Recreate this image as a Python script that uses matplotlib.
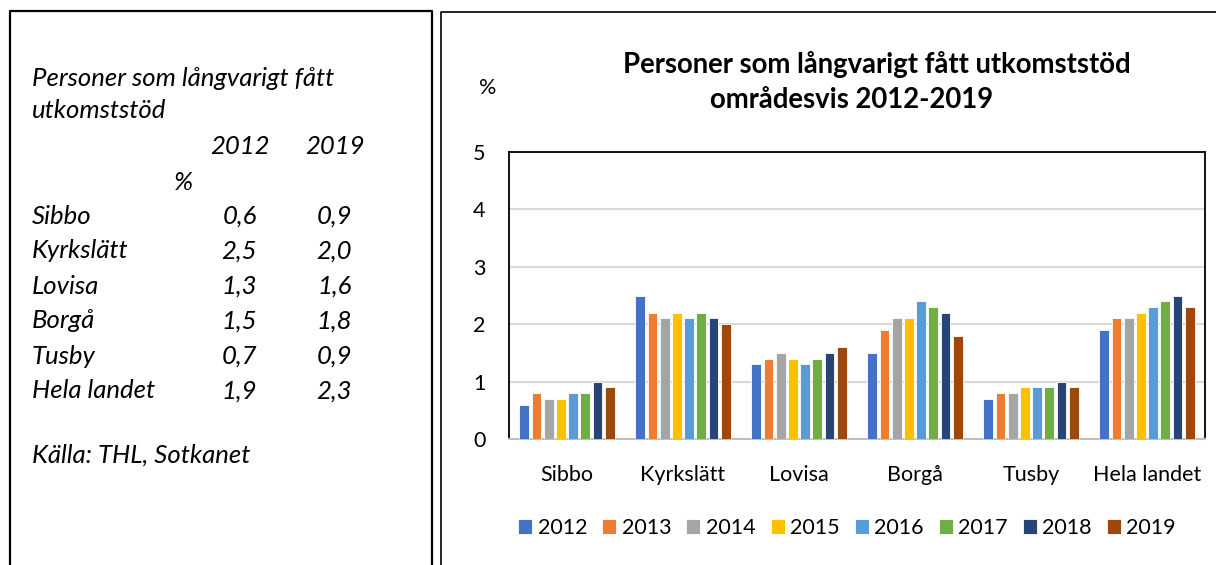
import matplotlib.pyplot as plt
import numpy as np
from matplotlib.lines import Line2D

plt.rcParams['font.family'] = ['Lato', 'DejaVu Sans']

AREAS = ["Sibbo", "Kyrkslätt", "Lovisa", "Borgå", "Tusby", "Hela landet"]
YEARS = ["2012", "2013", "2014", "2015", "2016", "2017", "2018", "2019"]
VALUES = {
    "2012": [0.6, 2.5, 1.3, 1.5, 0.7, 1.9],
    "2013": [0.8, 2.2, 1.4, 1.9, 0.8, 2.1],
    "2014": [0.7, 2.1, 1.5, 2.1, 0.8, 2.1],
    "2015": [0.7, 2.2, 1.4, 2.1, 0.9, 2.2],
    "2016": [0.8, 2.1, 1.3, 2.4, 0.9, 2.3],
    "2017": [0.8, 2.2, 1.4, 2.3, 0.9, 2.4],
    "2018": [1.0, 2.1, 1.5, 2.2, 1.0, 2.5],
    "2019": [0.9, 2.0, 1.6, 1.8, 0.9, 2.3],
}
COLORS = ["#4472C4", "#ED7D31", "#A5A5A5", "#FFC000",
          "#5B9BD5", "#70AD47", "#264478", "#9E480E"]

# text table in the left box
TABLE_ROWS = ["Sibbo", "Kyrkslätt", "Lovisa", "Borgå", "Tusby", "Hela landet"]
TABLE_2012 = ["0,6", "2,5", "1,3", "1,5", "0,7", "1,9"]
TABLE_2019 = ["0,9", "2,0", "1,6", "1,8", "0,9", "2,3"]

W, H = 1216, 565
fig = plt.figure(figsize=(W / 100, H / 100), dpi=100)


def fx(px):
    return px / W


def fy(py):
    return 1 - py / H


# panel borders
fig.add_artist(Line2D([fx(10), fx(10), fx(432), fx(432)],
                      [fy(565), fy(11), fy(11), fy(565)],
                      color="black", lw=1.6, transform=fig.transFigure))
fig.add_artist(Line2D([fx(441), fx(441), fx(1216)],
                      [fy(565), fy(12), fy(12)],
                      color="black", lw=1.2, transform=fig.transFigure))

# left box text
it = dict(fontsize=18.5, style="italic", color="black", va="center")
fig.text(fx(32), fy(78), "Personer som långvarigt fått", **it)
fig.text(fx(32), fy(111), "utkomststöd", **it)
fig.text(fx(270), fy(147), "2012", ha="right", **it)
fig.text(fx(365), fy(147), "2019", ha="right", **it)
fig.text(fx(193), fy(182), "%", ha="right", **it)
for i, (name, a, b) in enumerate(zip(TABLE_ROWS, TABLE_2012, TABLE_2019)):
    y = fy(216 + 35 * i)
    fig.text(fx(32), y, name, **it)
    fig.text(fx(257), y, a, ha="right", **it)
    fig.text(fx(352), y, b, ha="right", **it)
fig.text(fx(32), fy(455), "Källa: THL, Sotkanet", **it)

# chart
ax = fig.add_axes([fx(509), fy(439), fx(1205) - fx(509), fy(152) - fy(439)])
x = np.arange(len(AREAS))
pitch, bw = 0.105, 0.085
for i, (yr, c) in enumerate(zip(YEARS, COLORS)):
    off = (i - (len(YEARS) - 1) / 2) * pitch
    ax.bar(x + off, VALUES[yr], width=bw, color=c, edgecolor="white",
           linewidth=0.6, label=yr, zorder=3)

ax.set_xlim(-0.5, len(AREAS) - 0.5)
ax.set_ylim(0, 5)
ax.set_yticks(range(6))
ax.set_xticks(x)
ax.set_xticklabels(AREAS)
ax.yaxis.grid(True, color="#d9d9d9", lw=1.5, zorder=0)
ax.tick_params(axis="both", length=0, labelsize=15.5)
ax.tick_params(axis="y", pad=17)
ax.tick_params(axis="x", pad=19)
for s in ("top", "left", "right"):
    ax.spines[s].set_color("black")
    ax.spines[s].set_linewidth(1.3)
ax.spines["bottom"].set_color("#bfbfbf")
ax.spines["bottom"].set_linewidth(1.5)

fig.text(fx(488), fy(88), "%", fontsize=15.5, ha="center", va="center")
fig.text(fx(877), fy(65), "Personer som långvarigt fått utkomststöd",
         fontsize=19.8, fontweight="bold", ha="center", va="center")
fig.text(fx(852), fy(100), "områdesvis 2012-2019",
         fontsize=19.8, fontweight="bold", ha="center", va="center")

fig.legend(loc="center", bbox_to_anchor=(fx(847), fy(528)), ncol=8,
           frameon=False, fontsize=15.5, handlelength=0.65, handleheight=0.65,
           handletextpad=0.25, columnspacing=0.7)

fig.savefig("out.png", dpi=100)
